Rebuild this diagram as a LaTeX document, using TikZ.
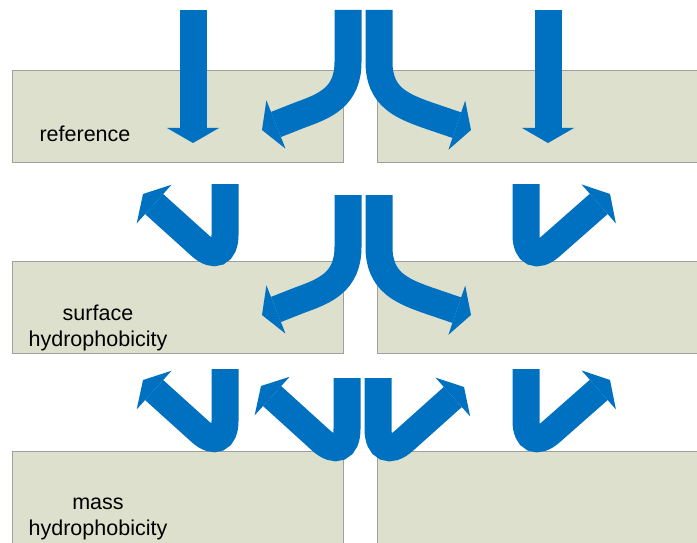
\documentclass[tikz,border=0pt]{standalone}
\usepackage{fontspec}
\setmainfont{Liberation Sans}
\usetikzlibrary{arrows.meta,positioning}
\definecolor{flowblue}{RGB}{0,112,192}
\definecolor{slabfill}{RGB}{221,224,204}

\begin{document}
\begin{tikzpicture}[
    x=1pt, y=-1pt,
    slab/.style={draw=gray!75, fill=slabfill, line width=1pt, anchor=north west, minimum width=331pt, minimum height=92pt, inner sep=0pt},
    slabtext/.style={font=\fontsize{21.5}{25.5}\selectfont, align=center},
    flow/.style={draw=flowblue, line width=27pt, -{Triangle[length=15pt, width=52pt, line width=0pt]}}
]
\clip (0,0) rectangle (697,543);

% layers
\node[slab] (refL) at (12,70) {};
\node[slab] (refR) at (377,70) {};
\node[slab] (surfL) at (12,261) {};
\node[slab] (surfR) at (377,261) {};
\node[slab, minimum height=110pt] (massL) at (12,451) {};
\node[slab, minimum height=110pt] (massR) at (377,451) {};

\node[slabtext] (reflabel) at (85,134) {reference};
\node[slabtext] (surflabel) at (98,328) {surface\\hydrophobicity};
\node[slabtext] (masslabel) at (98,519) {mass\\hydrophobicity};

% top row
\draw[flow] (193,10) -- (193,143);
\draw[flow] (548,10) -- (548,143);
\draw[flow] (348,10) -- (348,62) .. controls (348,97) and (325,106) .. (300,115) -- (262,130);
\draw[flow] (379,10) -- (379,62) .. controls (379,97) and (402,106) .. (427,115) -- (471,130);

% middle row
\draw[flow, rounded corners=33pt] (225,184) -- (225,268) -- (143,194);
\draw[flow, rounded corners=33pt] (526,184) -- (526,268) -- (610,194);
\draw[flow] (348,195) -- (348,247) .. controls (348,282) and (325,291) .. (300,300) -- (262,315);
\draw[flow] (379,195) -- (379,247) .. controls (379,282) and (402,291) .. (427,300) -- (471,315);

% bottom row
\draw[flow, rounded corners=33pt] (225,369) -- (225,454) -- (143,380);
\draw[flow, rounded corners=33pt] (526,369) -- (526,454) -- (610,380);
\draw[flow, rounded corners=35pt] (347,378) -- (347,464) -- (261,386);
\draw[flow, rounded corners=35pt] (378,378) -- (378,464) -- (464,387);
\end{tikzpicture}
\end{document}
